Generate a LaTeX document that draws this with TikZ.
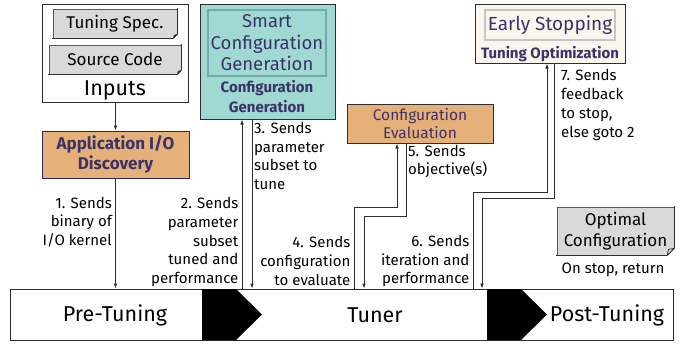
\documentclass[tikz,border=0pt]{standalone}
\usepackage{fontspec}
\setmainfont{Fira Sans}
\usetikzlibrary{arrows.meta,calc}
\definecolor{orng}{HTML}{E6B07B}
\definecolor{teal2}{HTML}{9FD9D2}
\definecolor{tealb}{HTML}{73ABAA}
\definecolor{purp}{HTML}{3B3366}
\definecolor{cream}{HTML}{FDF6EF}
\definecolor{docgray}{HTML}{D9D9D9}
\definecolor{ln}{HTML}{2E2E2E}
\newcommand{\docfold}[2]{%
 \fill[white] ($(#1.south east)+(0,-#2)$) -- ($(#1.south east)+(1.5,-#2)$) -- ($(#1.south east)+(1.5,1.5)$) -- ($(#1.south east)+(-#2,1.5)$) -- ($(#1.south east)+(-#2,0)$) -- cycle;
 \draw[draw=ln, line width=1.5pt] ($(#1.north east)+(0,-0.3)$) -- ($(#1.south east)+(0,-#2)$);
 \draw[draw=ln, line width=1.5pt] ($(#1.south east)+(-#2,0)$) -- ($(#1.south west)+(-0.3,0)$);
 \filldraw[fill=gray!35, draw=ln, line width=0.8pt, line join=round] ($(#1.south east)+(0,-#2)$) -- ($(#1.south east)+(-#2,0)$) -- ($(#1.south east)+(-#2+1,-#2+1)$) -- cycle;
}
\begin{document}
\begin{tikzpicture}[x=1pt,y=-1pt,
 box/.style={draw=ln, line width=1pt, inner sep=0pt, align=center},
 docbox/.style={draw=ln!80, line width=0.7pt, inner sep=0pt, align=center, fill=docgray, font=\fontsize{17}{21}\selectfont},
 lbl/.style={font=\fontsize{15}{18.7}\selectfont, inner sep=0pt},
 big/.style={font=\fontsize{21.5}{25}\selectfont, inner sep=0pt},
 arr/.style={draw=ln, line width=0.8pt, -{Latex[length=5pt,width=3.6pt]}}]
\useasboundingbox (0,0) rectangle (683,343);

% bottom bar
\node[box, minimum width=663pt, minimum height=51pt] (bar) at (341.5,314.5) {};
\fill[black] (202,289) -- (236,289) -- (262,314.5) -- (236,340) -- (202,340) -- cycle;
\fill[black] (487,289) -- (521,289) -- (547,314.5) -- (521,340) -- (487,340) -- cycle;
\node[big] (pre) at (115,315) {Pre-Tuning};
\node[big] (tuner) at (375,315) {Tuner};
\node[big] (post) at (607,315) {Post-Tuning};

% inputs
\node[box, minimum width=146pt, minimum height=98pt] (inputs) at (115.5,53) {};
\node[docbox, minimum width=124pt, minimum height=29pt] (spec) at (115,23.5) {Tuning Spec.};
\docfold{spec}{4}
\node[docbox, minimum width=132pt, minimum height=29pt] (src) at (115,59.5) {Source Code};
\docfold{src}{4}
\node[big] (inlbl) at (115,90) {Inputs};

% application I/O discovery
\node[box, draw=purp!80!black, fill=orng, minimum width=147pt, minimum height=47pt,
  text=purp, font=\bfseries\fontsize{17}{20}\selectfont] (app) at (115.5,154.5) {Application I/O\\Discovery};

% configuration generation
\node[box, fill=teal2, minimum width=135pt, minimum height=115pt] (gen) at (267.5,61.5) {};
\node[box, draw=tealb, line width=1.6pt, minimum width=118pt, minimum height=66pt, text=purp,
  font=\fontsize{18.5}{21.5}\selectfont] (smart) at (267,43) {Smart\\Configuration\\Generation};
\node[align=center, inner sep=0pt, text=purp, font=\bfseries\fontsize{15}{20}\selectfont] (genlbl) at (267,97) {Configuration\\Generation};

% configuration evaluation
\node[box, fill=orng, minimum width=146pt, minimum height=39pt, text=purp,
  font=\fontsize{15.5}{18}\selectfont] (eval) at (420,123.5) {Configuration\\Evaluation};

% early stopping
\node[box, fill=cream, minimum width=150pt, minimum height=59pt] (early) at (550,33.5) {};
\node[box, draw=gray!45, line width=1.6pt, fill=cream, minimum width=130pt, minimum height=30pt,
  text=purp, font=\fontsize{19}{22}\selectfont] (es) at (550,25) {Early Stopping};
\node[inner sep=0pt, text=purp, font=\bfseries\fontsize{15}{18}\selectfont] (topt) at (550,54) {Tuning Optimization};

% optimal configuration
\node[docbox, minimum width=117pt, minimum height=48pt] (opt) at (615.5,231) {Optimal\\Configuration};
\docfold{opt}{7}
\node[lbl] (ret) at (613,270) {On stop, return};

% connectors
\coordinate (x2) at (242,0);
\coordinate (x3) at (252,0);
\coordinate (a4) at (354,207);
\coordinate (k4) at (397,207);
\coordinate (k5) at (406,216);
\coordinate (a5) at (364,216);
\coordinate (a6) at (473,192);
\coordinate (k6) at (547,192);
\coordinate (k7) at (554,198);
\coordinate (a7) at (482,198);

\draw[arr] (inputs.south) -- (app.north);
\draw[arr] (app.south) -- (app.south |- bar.north);
\draw[arr] (bar.north -| x2) -- (gen.south -| x2);
\draw[arr] (gen.south -| x3) -- (bar.north -| x3);
\draw[arr] (bar.north -| a4) -- (a4) -- (k4) -- (eval.south -| k4);
\draw[arr] (eval.south -| k5) -- (k5) -- (a5) -- (bar.north -| a5);
\draw[arr] (bar.north -| a6) -- (a6) -- (k6) -- (early.south -| k6);
\draw[arr] (early.south -| k7) -- (k7) -- (a7) -- (bar.north -| a7);

% labels
\node[lbl, anchor=east, align=right] (l1) at (112,222) {1. Sends\\binary of\\I/O kernel};
\node[lbl, anchor=east, align=right] (l2) at (238.5,242) {2. Sends\\parameter\\subset\\tuned and\\performance};
\node[lbl, anchor=west, align=left] (l3) at (254,156) {3. Sends\\parameter\\subset to\\tune};
\node[lbl, anchor=east, align=right] (l4) at (350.5,261) {4. Sends\\configuration\\to evaluate};
\node[lbl, anchor=west, align=left] (l5) at (408,161.5) {5. Sends\\objective(s)};
\node[lbl, anchor=east, align=right] (l6) at (469.5,261) {6. Sends\\iteration and\\performance};
\node[lbl, anchor=west, align=left] (l7) at (561,105) {7. Sends\\feedback\\to stop,\\else goto 2};
\end{tikzpicture}
\end{document}
